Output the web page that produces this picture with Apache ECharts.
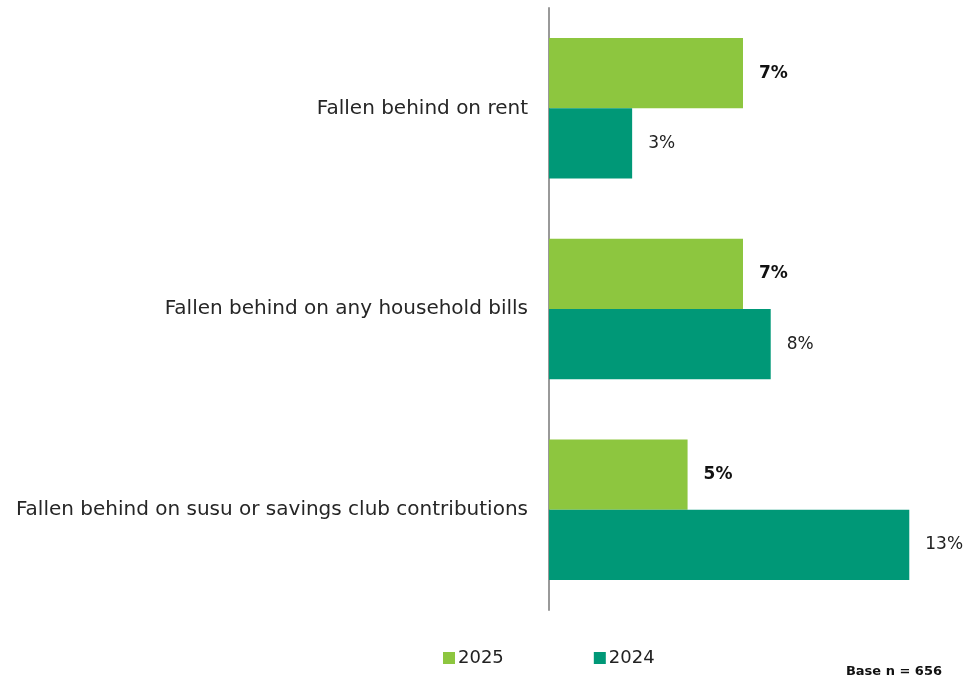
<!DOCTYPE html>
<html>
<head>
<meta charset="utf-8">
<script src="https://cdn.jsdelivr.net/npm/echarts@6/dist/echarts.min.js"></script>
<style>
  html, body { margin: 0; padding: 0; background: #ffffff; }
  #chart { width: 969px; height: 676px; }
</style>
</head>
<body>
<div id="chart"></div>
<script>
// Survey items (top to bottom)
const categories = [
  'Fallen behind on rent',
  'Fallen behind on any household bills',
  'Fallen behind on susu or savings club contributions'
];
// Share of respondents, percent
const values2025 = [7, 7, 5];
const values2024 = [3, 8, 13];
const seriesNames = ['2025', '2024'];
const baseNote = 'Base n = 656';

const FONT = '"DejaVu Sans", sans-serif';
const GREEN_LIGHT = '#8dc63f';
const GREEN_DARK = '#009877';

const chart = echarts.init(document.getElementById('chart'));
chart.setOption({
  animation: false,
  textStyle: { fontFamily: FONT },
  grid: { left: 549, top: 8, width: 388, bottom: 66, containLabel: false },
  xAxis: {
    type: 'value', min: 0, max: 14,
    show: false, splitLine: { show: false }
  },
  yAxis: {
    type: 'category', data: categories, inverse: true,
    axisLine: { show: true, lineStyle: { color: '#999999', width: 2 } },
    axisTick: { show: false },
    axisLabel: { color: '#262626', fontSize: 20, margin: 21, fontFamily: FONT }
  },
  legend: {
    data: seriesNames, left: 438, top: 644,
    icon: 'rect', itemWidth: 12, itemHeight: 12, itemGap: 90,
    textStyle: { color: '#222222', fontSize: 18, fontFamily: FONT, padding: [0, 0, 0, -2] }
  },
  series: [
    {
      name: seriesNames[0], type: 'bar', data: values2025,
      barGap: '0%', barCategoryGap: '30%',
      itemStyle: { color: GREEN_LIGHT },
      label: {
        show: true, position: 'right', distance: 16,
        formatter: p => p.value + '%',
        fontSize: 17, fontWeight: 'bold', color: '#111111', fontFamily: FONT
      }
    },
    {
      name: seriesNames[1], type: 'bar', data: values2024,
      barGap: '0%', barCategoryGap: '30%',
      itemStyle: { color: GREEN_DARK },
      label: {
        show: true, position: 'right', distance: 16,
        formatter: p => p.value + '%',
        fontSize: 17, color: '#222222', fontFamily: FONT
      }
    }
  ],
  graphic: [{
    type: 'text', right: 27, top: 665,
    style: { text: baseNote, font: 'bold 13px ' + FONT, fill: '#111111' }
  }]
});
</script>
</body>
</html>
